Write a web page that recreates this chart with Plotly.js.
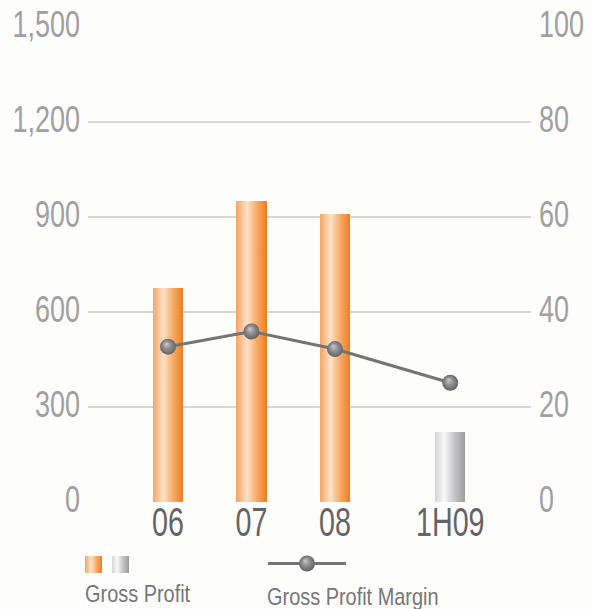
<!DOCTYPE html>
<html>
<head>
<meta charset="utf-8">
<script src="https://cdn.plot.ly/plotly-3.0.1.min.js"></script>
<style>
  html, body { margin: 0; padding: 0; background: #fdfdfb; }
  #chart { width: 592px; height: 609px; }
</style>
</head>
<body>
<div id="chart"></div>
<script>
// ---- data ----
const periods = ['06', '07', '08', '1H09'];
const periodIndex = [0, 1, 2, 3.38];          // 1H09 sits a little further out
const grossProfit = [675, 950, 910, 222];       // left axis
const grossProfitMargin = [32.7, 35.9, 32.2, 25.1]; // right axis (%)
const leftTicks = [0, 300, 600, 900, 1200, 1500];
const leftTickText = ['0', '300', '600', '900', '1,200', '1,500'];
const rightTicks = [0, 20, 40, 60, 80, 100];
const isHalfYear = [false, false, false, true];

// ---- styles ----
const FONT = '"Liberation Sans", Arial, sans-serif';
const W = 592, H = 609;
const M = { l: 88, r: 61, t: 27, b: 107 };
const pw = W - M.l - M.r, ph = H - M.t - M.b;
const px = x => (x - M.l) / pw;
const py = y => (H - M.b - y) / ph;

const barTrace = {
  type: 'bar',
  x: periodIndex,
  y: grossProfit,
  width: 0.36,
  marker: { color: isHalfYear.map(h => h ? '#c8c8ca' : '#f59a50'), line: { width: 0 } },
  hoverinfo: 'skip',
  showlegend: false
};
const lineTrace = {
  type: 'scatter',
  mode: 'lines+markers',
  x: periodIndex,
  y: grossProfitMargin,
  yaxis: 'y2',
  line: { color: '#747476', width: 3 },
  marker: { size: 16, color: '#6a6a6c' },
  hoverinfo: 'skip',
  showlegend: false
};

const layout = {
  width: W, height: H,
  margin: M,
  paper_bgcolor: '#fdfdfb',
  plot_bgcolor: '#fdfdfb',
  showlegend: false,
  bargap: 0,
  xaxis: {
    range: [-0.958, 4.347],
    tickvals: periodIndex,
    ticktext: periods,
    showgrid: false, zeroline: false, showline: false, ticks: '',
    tickfont: { family: FONT, size: 41, color: '#646466' },
    ticklabelstandoff: 0,
    fixedrange: true
  },
  yaxis: {
    range: [0, 1500],
    tickvals: leftTicks,
    ticktext: leftTickText,
    showgrid: true, gridcolor: '#d6d6d6', gridwidth: 1.5,
    zeroline: false, showline: false, ticks: '',
    tickfont: { family: FONT, size: 36, color: '#a0a0a2' },
    ticklabelstandoff: 7,
    fixedrange: true
  },
  yaxis2: {
    range: [0, 100],
    overlaying: 'y',
    side: 'right',
    tickvals: rightTicks,
    showgrid: false, zeroline: false, showline: false, ticks: '',
    tickfont: { family: FONT, size: 36, color: '#a0a0a2' },
    ticklabelstandoff: 7,
    fixedrange: true
  },
  shapes: [
    { type: 'rect', xref: 'paper', yref: 'paper', x0: px(85), x1: px(102), y0: py(573), y1: py(556), fillcolor: '#f59a50', line: { width: 0 } },
    { type: 'rect', xref: 'paper', yref: 'paper', x0: px(112), x1: px(129), y0: py(573), y1: py(556), fillcolor: '#c8c8ca', line: { width: 0 } },
    { type: 'line', xref: 'paper', yref: 'paper', x0: px(268), x1: px(346), y0: py(563.5), y1: py(563.5), line: { color: '#747476', width: 3 } },
    { type: 'circle', xref: 'paper', yref: 'paper', x0: px(299), x1: px(315), y0: py(571.5), y1: py(555.5), fillcolor: '#6e6e70', line: { width: 0 } }
  ],
  annotations: [
    { xref: 'paper', yref: 'paper', x: px(83), y: py(593), xanchor: 'left', yanchor: 'middle', showarrow: false,
      text: 'Gross Profit', font: { family: FONT, size: 24, color: '#76767a' } },
    { xref: 'paper', yref: 'paper', x: px(265), y: py(596), xanchor: 'left', yanchor: 'middle', showarrow: false,
      text: 'Gross Profit Margin', font: { family: FONT, size: 24, color: '#76767a' } }
  ]
};

function condense(el, sx, mode, dy) {
  const bb = el.getBBox();
  let ax;
  if (mode === 'left') ax = bb.x;
  else if (mode === 'right') ax = bb.x + bb.width;
  else ax = bb.x + bb.width / 2;
  const t = el.getAttribute('transform') || '';
  el.setAttribute('transform', t + ` translate(${ax},${dy || 0}) scale(${sx},1) translate(${-ax},0)`);
}

Plotly.newPlot('chart', [barTrace, lineTrace], layout, { staticPlot: true, displayModeBar: false }).then(gd => {
  const svgNS = 'http://www.w3.org/2000/svg';
  const svg = gd.querySelector('.main-svg');
  let defs = svg.querySelector('defs');
  if (!defs) { defs = document.createElementNS(svgNS, 'defs'); svg.insertBefore(defs, svg.firstChild); }
  function addGrad(id, stops, radial) {
    const g = document.createElementNS(svgNS, radial ? 'radialGradient' : 'linearGradient');
    g.setAttribute('id', id);
    if (radial) {
      g.setAttribute('cx', '0.5'); g.setAttribute('cy', '0.5'); g.setAttribute('r', '0.55');
      g.setAttribute('fx', '0.38'); g.setAttribute('fy', '0.32');
    } else {
      g.setAttribute('x1', '0'); g.setAttribute('x2', '1'); g.setAttribute('y1', '0'); g.setAttribute('y2', '0');
    }
    stops.forEach(([o, c]) => {
      const s = document.createElementNS(svgNS, 'stop');
      s.setAttribute('offset', o); s.setAttribute('stop-color', c);
      g.appendChild(s);
    });
    defs.appendChild(g);
  }
  addGrad('gOrange', [[0, '#f5a468'], [0.35, '#fde2c6'], [0.7, '#f7a660'], [1, '#f07c22']]);
  addGrad('gGray', [[0, '#d4d4d6'], [0.3, '#f8f8f8'], [0.65, '#c4c4c6'], [1, '#9c9ca0']]);
  addGrad('gBall', [[0, '#cacacc'], [0.45, '#909092'], [1, '#5e5e60']], true);
  gd.querySelectorAll('.barlayer .point path').forEach((p, i) => {
    p.style.fill = isHalfYear[i] ? 'url(#gGray)' : 'url(#gOrange)';
  });
  gd.querySelectorAll('.scatterlayer .point').forEach(p => { p.style.fill = 'url(#gBall)'; });
  const shp = gd.querySelectorAll('.shapelayer path');
  if (shp[0]) shp[0].style.fill = 'url(#gOrange)';
  if (shp[1]) shp[1].style.fill = 'url(#gGray)';
  if (shp[3]) shp[3].style.fill = 'url(#gBall)';

  gd.querySelectorAll('.ytick text').forEach(t => condense(t, 0.75, 'right', -3));
  gd.querySelectorAll('.y2tick text').forEach(t => condense(t, 0.75, 'left', -3));
  gd.querySelectorAll('.xtick text').forEach(t => condense(t, 0.7, 'middle', -8));
  gd.querySelectorAll('.annotation-text').forEach(t => condense(t, 0.83, 'left', 0));
});
</script>
</body>
</html>
